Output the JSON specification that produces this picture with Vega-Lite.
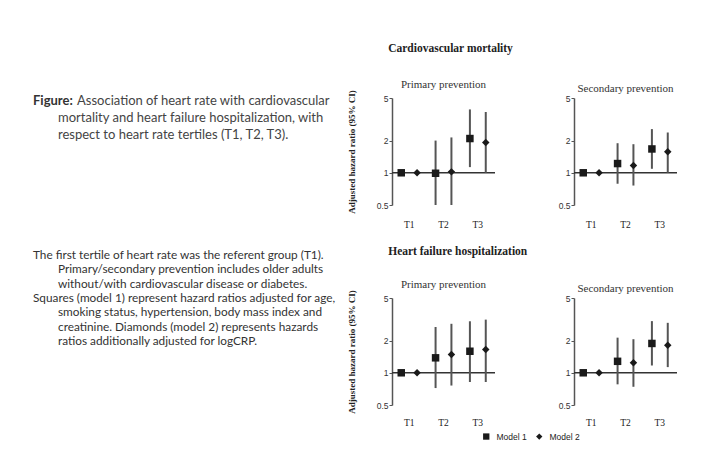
{
  "$schema": "https://vega.github.io/schema/vega-lite/v6.json",
  "background": "#ffffff",
  "padding": {"left": 33, "top": 43, "right": 5, "bottom": 5},
  "spacing": 11,
  "config": {
    "view": {"stroke": null},
    "font": "Liberation Serif",
    "axis": {"grid": false},
    "title": {"font": "Liberation Serif", "fontWeight": "normal", "fontSize": 11, "color": "#333333", "anchor": "middle"}
  },
  "datasets": {
    "hr": [
      {"outcome": "Cardiovascular mortality", "prevention": "Primary prevention", "tertile": "T1", "model": "Model 1", "hr": 1.0, "lo": null, "hi": null},
      {"outcome": "Cardiovascular mortality", "prevention": "Primary prevention", "tertile": "T1", "model": "Model 2", "hr": 1.0, "lo": null, "hi": null},
      {"outcome": "Cardiovascular mortality", "prevention": "Primary prevention", "tertile": "T2", "model": "Model 1", "hr": 0.99, "lo": 0.5, "hi": 2.0},
      {"outcome": "Cardiovascular mortality", "prevention": "Primary prevention", "tertile": "T2", "model": "Model 2", "hr": 1.02, "lo": 0.5, "hi": 2.14},
      {"outcome": "Cardiovascular mortality", "prevention": "Primary prevention", "tertile": "T3", "model": "Model 1", "hr": 2.09, "lo": 1.13, "hi": 3.91},
      {"outcome": "Cardiovascular mortality", "prevention": "Primary prevention", "tertile": "T3", "model": "Model 2", "hr": 1.92, "lo": 1.0, "hi": 3.7},
      {"outcome": "Cardiovascular mortality", "prevention": "Secondary prevention", "tertile": "T1", "model": "Model 1", "hr": 1.0, "lo": null, "hi": null},
      {"outcome": "Cardiovascular mortality", "prevention": "Secondary prevention", "tertile": "T1", "model": "Model 2", "hr": 1.0, "lo": null, "hi": null},
      {"outcome": "Cardiovascular mortality", "prevention": "Secondary prevention", "tertile": "T2", "model": "Model 1", "hr": 1.22, "lo": 0.79, "hi": 1.89},
      {"outcome": "Cardiovascular mortality", "prevention": "Secondary prevention", "tertile": "T2", "model": "Model 2", "hr": 1.17, "lo": 0.76, "hi": 1.85},
      {"outcome": "Cardiovascular mortality", "prevention": "Secondary prevention", "tertile": "T3", "model": "Model 1", "hr": 1.67, "lo": 1.09, "hi": 2.56},
      {"outcome": "Cardiovascular mortality", "prevention": "Secondary prevention", "tertile": "T3", "model": "Model 2", "hr": 1.57, "lo": 1.0, "hi": 2.38},
      {"outcome": "Heart failure hospitalization", "prevention": "Primary prevention", "tertile": "T1", "model": "Model 1", "hr": 1.0, "lo": null, "hi": null},
      {"outcome": "Heart failure hospitalization", "prevention": "Primary prevention", "tertile": "T1", "model": "Model 2", "hr": 1.0, "lo": null, "hi": null},
      {"outcome": "Heart failure hospitalization", "prevention": "Primary prevention", "tertile": "T2", "model": "Model 1", "hr": 1.38, "lo": 0.72, "hi": 2.68},
      {"outcome": "Heart failure hospitalization", "prevention": "Primary prevention", "tertile": "T2", "model": "Model 2", "hr": 1.48, "lo": 0.76, "hi": 2.87},
      {"outcome": "Heart failure hospitalization", "prevention": "Primary prevention", "tertile": "T3", "model": "Model 1", "hr": 1.59, "lo": 0.82, "hi": 3.03},
      {"outcome": "Heart failure hospitalization", "prevention": "Primary prevention", "tertile": "T3", "model": "Model 2", "hr": 1.65, "lo": 0.82, "hi": 3.14},
      {"outcome": "Heart failure hospitalization", "prevention": "Secondary prevention", "tertile": "T1", "model": "Model 1", "hr": 1.0, "lo": null, "hi": null},
      {"outcome": "Heart failure hospitalization", "prevention": "Secondary prevention", "tertile": "T1", "model": "Model 2", "hr": 1.0, "lo": null, "hi": null},
      {"outcome": "Heart failure hospitalization", "prevention": "Secondary prevention", "tertile": "T2", "model": "Model 1", "hr": 1.28, "lo": 0.78, "hi": 2.13},
      {"outcome": "Heart failure hospitalization", "prevention": "Secondary prevention", "tertile": "T2", "model": "Model 2", "hr": 1.24, "lo": 0.74, "hi": 2.06},
      {"outcome": "Heart failure hospitalization", "prevention": "Secondary prevention", "tertile": "T3", "model": "Model 1", "hr": 1.88, "lo": 1.17, "hi": 3.04},
      {"outcome": "Heart failure hospitalization", "prevention": "Secondary prevention", "tertile": "T3", "model": "Model 2", "hr": 1.81, "lo": 1.13, "hi": 2.93}
    ],
    "capA": [
      {"line": 1, "indent": 0, "part": "label", "text": "Figure:"},
      {"line": 1, "indent": 0, "part": "body", "text": "Association of heart rate with cardiovascular"},
      {"line": 2, "indent": 1, "part": "body", "text": "mortality and heart failure hospitalization, with"},
      {"line": 3, "indent": 1, "part": "body", "text": "respect to heart rate tertiles (T1, T2, T3)."}
    ],
    "capB": [
      {"line": 1, "indent": 0, "text": "The first tertile of heart rate was the referent group (T1)."},
      {"line": 2, "indent": 1, "text": "Primary/secondary prevention includes older adults"},
      {"line": 3, "indent": 1, "text": "without/with cardiovascular  disease or diabetes."},
      {"line": 4, "indent": 0, "text": "Squares (model 1) represent hazard ratios adjusted for age,"},
      {"line": 5, "indent": 1, "text": "smoking status, hypertension, body mass index and"},
      {"line": 6, "indent": 1, "text": "creatinine. Diamonds (model 2) represents hazards"},
      {"line": 7, "indent": 1, "text": "ratios additionally adjusted for logCRP."}
    ]
  },
  "hconcat": [
    {
      "width": 300,
      "height": 250,
      "resolve": {"scale": {"y": "independent"}},
      "layer": [
        {
          "data": {"name": "capA"},
          "transform": [{"filter": "datum.part === 'label'"}],
          "mark": {"type": "text", "align": "left", "baseline": "middle", "font": "Lato", "fontSize": 13, "fontWeight": "bold", "color": "#333333"},
          "encoding": {
            "x": {"field": "indent", "type": "quantitative", "scale": {"domain": [0, 1], "range": [0, 25]}, "axis": null},
            "y": {"field": "line", "type": "quantitative", "scale": {"domain": [1, 3], "range": [3, 37]}, "axis": null},
            "text": {"field": "text"}
          }
        },
        {
          "data": {"name": "capA"},
          "transform": [{"filter": "datum.part === 'body' && datum.line === 1"}],
          "mark": {"type": "text", "align": "left", "baseline": "middle", "font": "Lato", "fontSize": 13, "color": "#444444", "dx": 44},
          "encoding": {
            "x": {"field": "indent", "type": "quantitative", "scale": {"domain": [0, 1], "range": [0, 25]}, "axis": null},
            "y": {"field": "line", "type": "quantitative", "scale": {"domain": [1, 3], "range": [3, 37]}, "axis": null},
            "text": {"field": "text"}
          }
        },
        {
          "data": {"name": "capA"},
          "transform": [{"filter": "datum.line > 1"}],
          "mark": {"type": "text", "align": "left", "baseline": "middle", "font": "Lato", "fontSize": 13, "color": "#444444"},
          "encoding": {
            "x": {"field": "indent", "type": "quantitative", "scale": {"domain": [0, 1], "range": [0, 25]}, "axis": null},
            "y": {"field": "line", "type": "quantitative", "scale": {"domain": [1, 3], "range": [3, 37]}, "axis": null},
            "text": {"field": "text"}
          }
        },
        {
          "data": {"name": "capB"},
          "mark": {"type": "text", "align": "left", "baseline": "middle", "font": "Lato", "fontSize": 11.8, "color": "#333333"},
          "encoding": {
            "x": {"field": "indent", "type": "quantitative", "scale": {"domain": [0, 1], "range": [0, 25]}, "axis": null},
            "y": {"field": "line", "type": "quantitative", "scale": {"domain": [1, 7], "range": [157, 243]}, "axis": null},
            "text": {"field": "text"}
          }
        }
      ]
    },
    {
      "spacing": 17,
      "vconcat": [
        {
          "title": {"text": "Cardiovascular mortality", "fontWeight": "bold", "fontSize": 11.5, "anchor": "start", "dx": 41, "offset": 24, "color": "#222222"},
          "spacing": 62,
          "hconcat": [
            {
              "title": {"text": "Primary prevention", "offset": 0},
              "width": 103, "height": 107,
              "layer": [
                {"data": {"values": [{}]}, "mark": {"type": "rule", "color": "#333333", "strokeWidth": 1.5}, "encoding": {"y": {"datum": 1, "type": "quantitative"}}},
                {
                  "data": {"name": "hr"},
                  "transform": [{"filter": "datum.outcome === 'Cardiovascular mortality' && datum.prevention === 'Primary prevention'"}],
                  "mark": {"type": "rule", "color": "#555555", "strokeWidth": 2},
                  "encoding": {
                    "x": {"field": "tertile", "type": "nominal", "scale": {"domain": ["T1", "T2", "T3"], "paddingInner": 0, "paddingOuter": 0}, "axis": {"title": null, "domain": false, "ticks": false, "labelAngle": 0, "labelFont": "Liberation Serif", "labelFontSize": 9.5, "labelColor": "#222222", "labelPadding": 14}},
                    "xOffset": {"field": "model", "type": "nominal", "scale": {"domain": ["Model 1", "Model 2"], "paddingInner": 0, "paddingOuter": 0.083}},
                    "y": {"field": "lo", "type": "quantitative", "scale": {"type": "log", "domain": [0.5, 5], "nice": false}, "axis": {"values": [0.5, 1, 2, 5], "format": "~g", "title": "Adjusted hazard ratio (95% CI)", "titleFont": "Liberation Serif", "titleFontWeight": "bold", "titleFontSize": 9, "titleColor": "#222222", "titlePadding": 20, "labelFont": "Liberation Sans", "labelFontSize": 8.5, "labelColor": "#333333", "labelPadding": 1, "tickSize": 3, "tickColor": "#555555", "domainColor": "#555555", "domainWidth": 1.5}},
                    "y2": {"field": "hi"}
                  }
                },
                {
                  "data": {"name": "hr"},
                  "transform": [{"filter": "datum.outcome === 'Cardiovascular mortality' && datum.prevention === 'Primary prevention'"}],
                  "mark": {"type": "point", "filled": true, "opacity": 1, "color": "#1a1a1a", "size": 56},
                  "encoding": {
                    "x": {"field": "tertile", "type": "nominal"},
                    "xOffset": {"field": "model", "type": "nominal"},
                    "y": {"field": "hr", "type": "quantitative"},
                    "shape": {"field": "model", "type": "nominal", "scale": {"domain": ["Model 1", "Model 2"], "range": ["square", "diamond"]}, "legend": {"orient": "none", "legendX": 449, "legendY": 334, "direction": "horizontal", "title": null, "labelFont": "Liberation Sans", "labelFontSize": 8.5, "labelColor": "#222222", "symbolSize": 40, "symbolFillColor": "#1a1a1a", "columnPadding": 6, "labelOffset": 6}}
                  }
                }
              ]
            },
            {
              "title": {"text": "Secondary prevention", "offset": 0},
              "width": 103, "height": 107,
              "layer": [
                {"data": {"values": [{}]}, "mark": {"type": "rule", "color": "#333333", "strokeWidth": 1.5}, "encoding": {"y": {"datum": 1, "type": "quantitative"}}},
                {
                  "data": {"name": "hr"},
                  "transform": [{"filter": "datum.outcome === 'Cardiovascular mortality' && datum.prevention === 'Secondary prevention'"}],
                  "mark": {"type": "rule", "color": "#555555", "strokeWidth": 2},
                  "encoding": {
                    "x": {"field": "tertile", "type": "nominal", "scale": {"domain": ["T1", "T2", "T3"], "paddingInner": 0, "paddingOuter": 0}, "axis": {"title": null, "domain": false, "ticks": false, "labelAngle": 0, "labelFont": "Liberation Serif", "labelFontSize": 9.5, "labelColor": "#222222", "labelPadding": 14}},
                    "xOffset": {"field": "model", "type": "nominal", "scale": {"domain": ["Model 1", "Model 2"], "paddingInner": 0, "paddingOuter": 0.083}},
                    "y": {"field": "lo", "type": "quantitative", "scale": {"type": "log", "domain": [0.5, 5], "nice": false}, "axis": {"values": [0.5, 1, 2, 5], "format": "~g", "title": null, "labelFont": "Liberation Sans", "labelFontSize": 8.5, "labelColor": "#333333", "labelPadding": 1, "tickSize": 3, "tickColor": "#555555", "domainColor": "#555555", "domainWidth": 1.5}},
                    "y2": {"field": "hi"}
                  }
                },
                {
                  "data": {"name": "hr"},
                  "transform": [{"filter": "datum.outcome === 'Cardiovascular mortality' && datum.prevention === 'Secondary prevention'"}],
                  "mark": {"type": "point", "filled": true, "opacity": 1, "color": "#1a1a1a", "size": 56},
                  "encoding": {
                    "x": {"field": "tertile", "type": "nominal"},
                    "xOffset": {"field": "model", "type": "nominal"},
                    "y": {"field": "hr", "type": "quantitative"},
                    "shape": {"field": "model", "type": "nominal"}
                  }
                }
              ]
            }
          ]
        },
        {
          "title": {"text": "Heart failure hospitalization", "fontWeight": "bold", "fontSize": 11.5, "anchor": "start", "dx": 41, "offset": 21, "color": "#222222"},
          "spacing": 62,
          "hconcat": [
            {
              "title": {"text": "Primary prevention", "offset": 0},
              "width": 103, "height": 107,
              "layer": [
                {"data": {"values": [{}]}, "mark": {"type": "rule", "color": "#333333", "strokeWidth": 1.5}, "encoding": {"y": {"datum": 1, "type": "quantitative"}}},
                {
                  "data": {"name": "hr"},
                  "transform": [{"filter": "datum.outcome === 'Heart failure hospitalization' && datum.prevention === 'Primary prevention'"}],
                  "mark": {"type": "rule", "color": "#555555", "strokeWidth": 2},
                  "encoding": {
                    "x": {"field": "tertile", "type": "nominal", "scale": {"domain": ["T1", "T2", "T3"], "paddingInner": 0, "paddingOuter": 0}, "axis": {"title": null, "domain": false, "ticks": false, "labelAngle": 0, "labelFont": "Liberation Serif", "labelFontSize": 9.5, "labelColor": "#222222", "labelPadding": 12}},
                    "xOffset": {"field": "model", "type": "nominal", "scale": {"domain": ["Model 1", "Model 2"], "paddingInner": 0, "paddingOuter": 0.083}},
                    "y": {"field": "lo", "type": "quantitative", "scale": {"type": "log", "domain": [0.5, 5], "nice": false}, "axis": {"values": [0.5, 1, 2, 5], "format": "~g", "title": "Adjusted hazard ratio (95% CI)", "titleFont": "Liberation Serif", "titleFontWeight": "bold", "titleFontSize": 9, "titleColor": "#222222", "titlePadding": 20, "labelFont": "Liberation Sans", "labelFontSize": 8.5, "labelColor": "#333333", "labelPadding": 1, "tickSize": 3, "tickColor": "#555555", "domainColor": "#555555", "domainWidth": 1.5}},
                    "y2": {"field": "hi"}
                  }
                },
                {
                  "data": {"name": "hr"},
                  "transform": [{"filter": "datum.outcome === 'Heart failure hospitalization' && datum.prevention === 'Primary prevention'"}],
                  "mark": {"type": "point", "filled": true, "opacity": 1, "color": "#1a1a1a", "size": 56},
                  "encoding": {
                    "x": {"field": "tertile", "type": "nominal"},
                    "xOffset": {"field": "model", "type": "nominal"},
                    "y": {"field": "hr", "type": "quantitative"},
                    "shape": {"field": "model", "type": "nominal"}
                  }
                }
              ]
            },
            {
              "title": {"text": "Secondary prevention", "offset": 0},
              "width": 103, "height": 107,
              "layer": [
                {"data": {"values": [{}]}, "mark": {"type": "rule", "color": "#333333", "strokeWidth": 1.5}, "encoding": {"y": {"datum": 1, "type": "quantitative"}}},
                {
                  "data": {"name": "hr"},
                  "transform": [{"filter": "datum.outcome === 'Heart failure hospitalization' && datum.prevention === 'Secondary prevention'"}],
                  "mark": {"type": "rule", "color": "#555555", "strokeWidth": 2},
                  "encoding": {
                    "x": {"field": "tertile", "type": "nominal", "scale": {"domain": ["T1", "T2", "T3"], "paddingInner": 0, "paddingOuter": 0}, "axis": {"title": null, "domain": false, "ticks": false, "labelAngle": 0, "labelFont": "Liberation Serif", "labelFontSize": 9.5, "labelColor": "#222222", "labelPadding": 12}},
                    "xOffset": {"field": "model", "type": "nominal", "scale": {"domain": ["Model 1", "Model 2"], "paddingInner": 0, "paddingOuter": 0.083}},
                    "y": {"field": "lo", "type": "quantitative", "scale": {"type": "log", "domain": [0.5, 5], "nice": false}, "axis": {"values": [0.5, 1, 2, 5], "format": "~g", "title": null, "labelFont": "Liberation Sans", "labelFontSize": 8.5, "labelColor": "#333333", "labelPadding": 1, "tickSize": 3, "tickColor": "#555555", "domainColor": "#555555", "domainWidth": 1.5}},
                    "y2": {"field": "hi"}
                  }
                },
                {
                  "data": {"name": "hr"},
                  "transform": [{"filter": "datum.outcome === 'Heart failure hospitalization' && datum.prevention === 'Secondary prevention'"}],
                  "mark": {"type": "point", "filled": true, "opacity": 1, "color": "#1a1a1a", "size": 56},
                  "encoding": {
                    "x": {"field": "tertile", "type": "nominal"},
                    "xOffset": {"field": "model", "type": "nominal"},
                    "y": {"field": "hr", "type": "quantitative"},
                    "shape": {"field": "model", "type": "nominal"}
                  }
                }
              ]
            }
          ]
        }
      ]
    }
  ]
}
